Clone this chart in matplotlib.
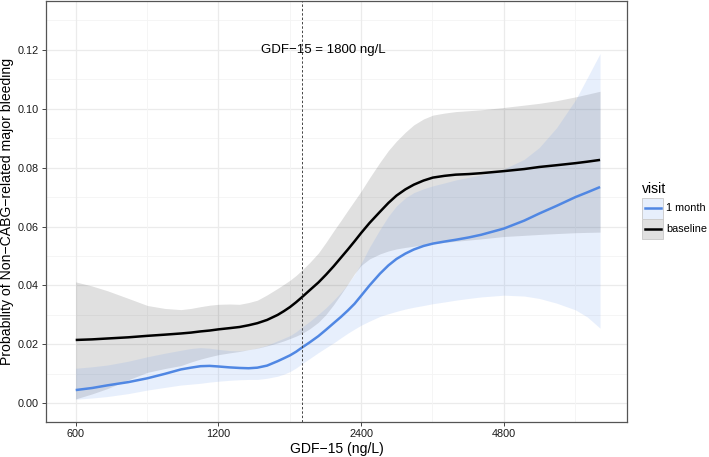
import numpy as np
import matplotlib
matplotlib.use("Agg")
import matplotlib.pyplot as plt
from matplotlib.ticker import FixedLocator, NullFormatter
from matplotlib.patches import Rectangle
from matplotlib.lines import Line2D

plt.rcParams['font.family'] = ['Liberation Sans', 'DejaVu Sans']

# ---- data ----
gdf = [600, 650, 700, 775, 850, 925, 1000, 1050, 1100, 1150, 1200, 1265,
       1330, 1390, 1450, 1520, 1600, 1650, 1700, 1750, 1800, 1870, 1950, 2025,
       2100, 2175, 2250, 2325, 2400, 2500, 2630, 2740, 2850, 2975, 3100, 3250,
       3400, 3600, 3800, 4050, 4300, 4800, 5300, 5700, 6200, 6800, 7200, 7660]

month1_fit = [0.0045, 0.0052, 0.0061, 0.0072, 0.0085, 0.0100, 0.0115, 0.0121,
              0.0126, 0.0127, 0.0125, 0.0122, 0.0120, 0.0119, 0.0121, 0.0128,
              0.0143, 0.0153, 0.0163, 0.0175, 0.0189, 0.0207, 0.0228, 0.0250,
              0.0272, 0.0293, 0.0315, 0.0338, 0.0365, 0.0400, 0.0440, 0.0468,
              0.0490, 0.0508, 0.0522, 0.0534, 0.0542, 0.0549, 0.0555, 0.0563,
              0.0572, 0.0593, 0.0620, 0.0644, 0.0670, 0.0700, 0.0716, 0.0734]
month1_lo = [0.0014, 0.0018, 0.0023, 0.0033, 0.0045, 0.0054, 0.0062, 0.0065,
             0.0068, 0.0072, 0.0075, 0.0078, 0.0080, 0.0081, 0.0081, 0.0085,
             0.0092, 0.0099, 0.0108, 0.0120, 0.0134, 0.0152, 0.0172, 0.0189,
             0.0205, 0.0222, 0.0238, 0.0252, 0.0265, 0.0279, 0.0295, 0.0304,
             0.0312, 0.0320, 0.0326, 0.0332, 0.0338, 0.0344, 0.0350, 0.0356,
             0.0361, 0.0367, 0.0364, 0.0356, 0.0340, 0.0317, 0.0293, 0.0255]
month1_hi = [0.0119, 0.0124, 0.0130, 0.0143, 0.0158, 0.0170, 0.0180, 0.0186,
             0.0189, 0.0187, 0.0183, 0.0179, 0.0178, 0.0182, 0.0188, 0.0197,
             0.0212, 0.0221, 0.0230, 0.0243, 0.0258, 0.0278, 0.0302, 0.0325,
             0.0350, 0.0376, 0.0405, 0.0438, 0.0475, 0.0530, 0.0590, 0.0635,
             0.0670, 0.0697, 0.0715, 0.0728, 0.0738, 0.0748, 0.0758, 0.0767,
             0.0775, 0.0795, 0.0828, 0.0868, 0.0935, 0.1030, 0.1105, 0.1187]

base_fit = [0.0215, 0.0217, 0.0220, 0.0224, 0.0229, 0.0233, 0.0237, 0.0240,
            0.0244, 0.0247, 0.0251, 0.0255, 0.0259, 0.0265, 0.0272, 0.0283,
            0.0300, 0.0313, 0.0327, 0.0343, 0.0360, 0.0384, 0.0410, 0.0437,
            0.0465, 0.0494, 0.0522, 0.0550, 0.0578, 0.0612, 0.0650, 0.0680,
            0.0705, 0.0726, 0.0742, 0.0756, 0.0766, 0.0772, 0.0776, 0.0778,
            0.0781, 0.0788, 0.0795, 0.0802, 0.0808, 0.0815, 0.0820, 0.0826]
base_lo = [0.0015, 0.0032, 0.0050, 0.0080, 0.0105, 0.0118, 0.0128, 0.0140,
           0.0150, 0.0158, 0.0165, 0.0171, 0.0176, 0.0182, 0.0187, 0.0195,
           0.0205, 0.0212, 0.0220, 0.0228, 0.0237, 0.0253, 0.0275, 0.0302,
           0.0335, 0.0370, 0.0405, 0.0440, 0.0468, 0.0490, 0.0507, 0.0517,
           0.0524, 0.0529, 0.0533, 0.0538, 0.0542, 0.0546, 0.0550, 0.0554,
           0.0558, 0.0566, 0.0570, 0.0573, 0.0576, 0.0579, 0.0580, 0.0581]
base_hi = [0.0412, 0.0398, 0.0382, 0.0356, 0.0332, 0.0322, 0.0318, 0.0322,
           0.0328, 0.0333, 0.0336, 0.0337, 0.0336, 0.0342, 0.0350, 0.0368,
           0.0390, 0.0404, 0.0418, 0.0434, 0.0452, 0.0478, 0.0510, 0.0547,
           0.0585, 0.0620, 0.0655, 0.0688, 0.0720, 0.0765, 0.0818, 0.0858,
           0.0890, 0.0920, 0.0945, 0.0965, 0.0978, 0.0985, 0.0990, 0.0993,
           0.0996, 0.1004, 0.1012, 0.1018, 0.1027, 0.1040, 0.1049, 0.1059]

x_ticks = [600, 1200, 2400, 4800]
x_minor = [849, 1697, 3394, 6788]
y_ticks = [0.00, 0.02, 0.04, 0.06, 0.08, 0.10, 0.12]
y_minor = [0.01, 0.03, 0.05, 0.07, 0.09, 0.11, 0.13]
cutoff = 1800
series_names = ["1 month", "baseline"]

# ---- styles ----
W, H = 709, 457
blue = "#5087E3"
blue_fill = (100/255, 149/255, 237/255, 0.15)
grey_fill = (0, 0, 0, 0.12)

fig = plt.figure(figsize=(W/100, H/100), dpi=100)
ax = fig.add_axes([46/W, 1-422/H, (627-46)/W, (422-0.5)/H])

ax.set_xscale('log')
ax.set_xlim(519.4, 8731)
ax.set_ylim(-0.00634, 0.1367)

# grid
for v in y_ticks:
    ax.axhline(v, color='#EBEBEB', lw=0.9, zorder=0)
for v in y_minor:
    ax.axhline(v, color='#F4F4F4', lw=0.6, zorder=0)
for v in x_ticks:
    ax.axvline(v, color='#EBEBEB', lw=0.9, zorder=0)
for v in x_minor:
    ax.axvline(v, color='#F4F4F4', lw=0.6, zorder=0)

ax.fill_between(gdf, base_lo, base_hi, color=grey_fill, lw=0, zorder=1)
ax.fill_between(gdf, month1_lo, month1_hi, color=blue_fill, lw=0, zorder=2)
ax.plot(gdf, month1_fit, color=blue, lw=1.8, zorder=3, solid_capstyle='butt',
        solid_joinstyle='round')
ax.plot(gdf, base_fit, color='black', lw=1.8, zorder=4, solid_capstyle='butt',
        solid_joinstyle='round')

ax.axvline(cutoff, color='#444444', lw=0.7, ls=(0, (2.5, 2)), zorder=5)
ax.text(2000, 0.12, "GDF\u221215 = 1800 ng/L", ha='center', va='center',
        fontsize=9.5, color='black', zorder=6)

ax.xaxis.set_major_locator(FixedLocator(x_ticks))
ax.xaxis.set_minor_locator(FixedLocator([]))
ax.xaxis.set_minor_formatter(NullFormatter())
ax.set_xticklabels([str(v) for v in x_ticks])
ax.yaxis.set_major_locator(FixedLocator(y_ticks))
ax.set_yticklabels([f"{v:.2f}" for v in y_ticks])
ax.tick_params(axis='both', which='major', labelsize=7.8, length=3,
               width=0.7, color='#444444', labelcolor='#1a1a1a', pad=2)
for s in ax.spines.values():
    s.set_color('#555555')
    s.set_linewidth(0.9)

ax.set_xlabel("GDF\u221215 (ng/L)", fontsize=10.1, labelpad=2)
ax.set_ylabel("Probability of Non\u2212CABG\u2212related major bleeding",
              fontsize=10.1, labelpad=3)

# ---- legend (manual, ggplot style) ----
def fx(px):
    return px / W

def fy(py):
    return 1 - py / H

fig.text(fx(642), fy(189), "visit", fontsize=10.1, ha='left', va='center')
keys = [(series_names[0], blue, blue_fill, 198), (series_names[1], 'black', grey_fill, 218.5)]
for name, lc, fc, top in keys:
    fig.patches.append(Rectangle((fx(642), fy(top + 20.5)), 21/W, 20.5/H,
                                 transform=fig.transFigure, facecolor='white',
                                 edgecolor='none'))
    fig.patches.append(Rectangle((fx(642), fy(top + 20.5)), 21/W, 20.5/H,
                                 transform=fig.transFigure, facecolor=fc,
                                 edgecolor='#C8C8C8', lw=0.6))
    yc = fy(top + 10.25)
    fig.lines.append(Line2D([fx(644.5), fx(660.5)], [yc, yc], color=lc, lw=1.8,
                            transform=fig.transFigure))
    fig.text(fx(666), yc, name, fontsize=7.8, ha='left', va='center')

fig.savefig("out.png", dpi=100)
